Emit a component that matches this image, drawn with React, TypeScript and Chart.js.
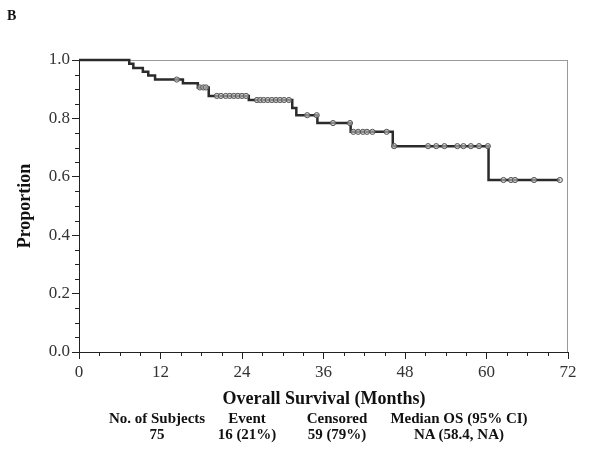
import React, { useEffect, useRef } from "react";
import { Chart, registerables } from "chart.js";

Chart.register(...registerables);

// Kaplan-Meier step curve (event times in months, survival proportion after the step)
const eventTimes = [0, 7.4, 8.0, 9.4, 10.2, 11.2, 15.3, 17.5, 19.1, 25.0, 31.4, 32.0, 35.1, 40.0, 46.2, 60.3, 70.8];
const survival = [1, 0.987, 0.973, 0.96, 0.947, 0.933, 0.92, 0.906, 0.877, 0.863, 0.836, 0.811, 0.784, 0.754, 0.705, 0.589, 0.589];

// Censored observation times (months)
const censorTimes = [
  14.4, 17.8, 18.3, 18.7, 20.3, 20.9, 21.6, 22.2, 22.8, 23.4, 24.0, 24.6,
  26.2, 26.7, 27.2, 27.8, 28.4, 29.0, 29.6, 30.2, 30.9, 33.6, 35.0, 37.4,
  39.9, 40.4, 41.1, 41.8, 42.4, 43.2, 45.3, 46.4, 51.4, 52.6, 53.8, 55.7,
  56.6, 57.7, 58.9, 60.2, 62.5, 63.6, 64.2, 67.0, 70.8,
];

const xTicks = [0, 12, 24, 36, 48, 60, 72];
const yTicks = [0, 0.2, 0.4, 0.6, 0.8, 1.0];

const tableHeaders = ["No. of Subjects", "Event", "Censored", "Median OS (95% CI)"];
const tableValues = ["75", "16 (21%)", "59 (79%)", "NA (58.4, NA)"];
const tableCenters = [157, 247, 337, 459];

function survAt(t: number): number {
  let s = survival[0];
  for (let i = 0; i < eventTimes.length; i++) {
    if (eventTimes[i] <= t) s = survival[i];
  }
  return s;
}

const FONT = "'Liberation Serif', 'Times New Roman', serif";

const framePlugin = {
  id: "frameAndMinor",
  beforeDatasetsDraw(chart: any) {
    const { ctx, chartArea } = chart;
    ctx.save();
    ctx.strokeStyle = "#9a9a9a";
    ctx.lineWidth = 1;
    ctx.beginPath();
    ctx.moveTo(chartArea.left, chartArea.top + 0.5);
    ctx.lineTo(chartArea.right, chartArea.top + 0.5);
    ctx.moveTo(chartArea.right - 0.5, chartArea.top);
    ctx.lineTo(chartArea.right - 0.5, chartArea.bottom);
    ctx.stroke();
    ctx.restore();
  },
  afterDraw(chart: any) {
    const { ctx, chartArea } = chart;
    const xs = chart.scales.x;
    const ys = chart.scales.y;
    ctx.save();
    ctx.strokeStyle = "#222";
    ctx.lineWidth = 1;
    ctx.beginPath();
    for (let m = 3; m < 72; m += 3) {
      if (m % 12 === 0) continue;
      const px = Math.round(xs.getPixelForValue(m)) + 0.5;
      ctx.moveTo(px, chartArea.bottom);
      ctx.lineTo(px, chartArea.bottom + 4);
    }
    for (let k = 1; k < 20; k++) {
      if (k % 4 === 0) continue;
      const py = Math.round(ys.getPixelForValue(k * 0.05)) + 0.5;
      ctx.moveTo(chartArea.left, py);
      ctx.lineTo(chartArea.left - 4, py);
    }
    ctx.stroke();
    ctx.restore();
  },
};

export default function App() {
  const ref = useRef<HTMLCanvasElement | null>(null);

  useEffect(() => {
    if (!ref.current) return;
    const curve = eventTimes.map((t, i) => ({ x: t, y: survival[i] }));
    const censored = censorTimes.map((t) => ({ x: t, y: survAt(t) }));
    const chart = new Chart(ref.current, {
      type: "line",
      data: {
        datasets: [
          {
            label: "KM",
            data: curve,
            stepped: "before",
            borderColor: "#2b2b2b",
            borderWidth: 2.5,
            pointRadius: 0,
            fill: false,
            clip: 3,
            order: 2,
          } as any,
          {
            label: "Censored",
            data: censored,
            showLine: false,
            pointStyle: "circle",
            pointRadius: 2.6,
            pointBorderWidth: 1,
            pointBorderColor: "#555",
            pointBackgroundColor: "rgba(200,200,200,0.6)",
            order: 1,
          } as any,
        ],
      },
      options: {
        animation: false,
        responsive: false,
        maintainAspectRatio: false,
        devicePixelRatio: 1,
        layout: { padding: { top: 60, right: 32, left: 0, bottom: 0 } },
        plugins: { legend: { display: false }, tooltip: { enabled: false } },
        scales: {
          x: {
            type: "linear",
            min: 0,
            max: 72,
            afterBuildTicks: (scale: any) => {
              scale.ticks = xTicks.map((v) => ({ value: v }));
            },
            afterFit: (scale: any) => {
              scale.height = 99;
            },
            ticks: {
              font: { family: FONT, size: 17 },
              color: "#333",
              padding: 3,
              maxRotation: 0,
              callback: (v: any) => String(v),
            },
            grid: { drawOnChartArea: false, drawTicks: true, tickLength: 7, color: "#222" },
            border: { display: true, color: "#222", width: 1 },
          },
          y: {
            type: "linear",
            min: 0,
            max: 1,
            afterBuildTicks: (scale: any) => {
              scale.ticks = yTicks.map((v) => ({ value: v }));
            },
            afterFit: (scale: any) => {
              scale.width = 79;
            },
            ticks: {
              font: { family: FONT, size: 17 },
              color: "#333",
              padding: 2,
              callback: (v: any) => Number(v).toFixed(1),
            },
            grid: { drawOnChartArea: false, drawTicks: true, tickLength: 7, color: "#222" },
            border: { display: true, color: "#222", width: 1 },
          },
        },
      },
      plugins: [framePlugin],
    });
    return () => chart.destroy();
  }, []);

  const bold: React.CSSProperties = {
    position: "absolute",
    fontFamily: FONT,
    fontWeight: "bold",
    color: "#111",
    whiteSpace: "nowrap",
    lineHeight: 1,
  };

  return (
    <div style={{ position: "fixed", left: 0, top: 0, width: 600, height: 451, background: "#fff", overflow: "hidden" }}>
      <canvas ref={ref} width={600} height={451} style={{ width: 600, height: 451, display: "block" }} />
      <div style={{ ...bold, left: 7, top: 9, fontSize: 14 }}>B</div>
      <div
        style={{
          ...bold,
          left: 24,
          top: 206,
          fontSize: 18,
          transform: "translate(-50%, -50%) rotate(-90deg)",
        }}
      >
        Proportion
      </div>
      <div style={{ ...bold, left: 324, top: 398, fontSize: 18, transform: "translate(-50%, -50%)" }}>
        Overall Survival (Months)
      </div>
      {tableHeaders.map((h, i) => (
        <div key={"h" + i} style={{ ...bold, left: tableCenters[i], top: 418, fontSize: 15, transform: "translate(-50%, -50%)" }}>
          {h}
        </div>
      ))}
      {tableValues.map((v, i) => (
        <div key={"v" + i} style={{ ...bold, left: tableCenters[i], top: 434, fontSize: 15, transform: "translate(-50%, -50%)" }}>
          {v}
        </div>
      ))}
    </div>
  );
}
